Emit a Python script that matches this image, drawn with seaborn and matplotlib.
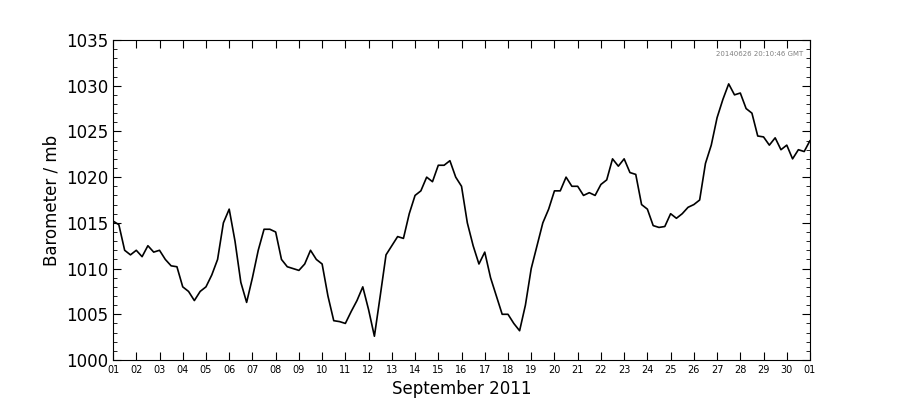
import pandas as pd
import numpy as np
import matplotlib
matplotlib.use("Agg")
import matplotlib.pyplot as plt
import matplotlib.dates as mdates
from matplotlib.ticker import MultipleLocator
import seaborn as sns

# barometer readings every 6 hours, 1 Sep 2011 00:00 to 1 Oct 2011 00:00
pressure = [
    1015.2, 1014.8, 1012.0, 1011.5,
    1012.0, 1011.3, 1012.5, 1011.8,
    1012.0, 1011.0, 1010.3, 1010.2,
    1008.0, 1007.5, 1006.5, 1007.5,
    1008.0, 1009.3, 1011.0, 1015.0,
    1016.5, 1013.0, 1008.5, 1006.3,
    1009.0, 1012.0, 1014.3, 1014.3,
    1014.0, 1011.0, 1010.2, 1010.0,
    1009.8, 1010.5, 1012.0, 1011.0,
    1010.5, 1007.0, 1004.3, 1004.2,
    1004.0, 1005.3, 1006.5, 1008.0,
    1005.5, 1002.6, 1007.0, 1011.5,
    1012.5, 1013.5, 1013.3, 1016.0,
    1018.0, 1018.5, 1020.0, 1019.5,
    1021.3, 1021.3, 1021.8, 1020.0,
    1019.0, 1015.0, 1012.5, 1010.5,
    1011.8, 1009.0, 1007.0, 1005.0,
    1005.0, 1004.0, 1003.2, 1006.0,
    1010.0, 1012.5, 1015.0, 1016.5,
    1018.5, 1018.5, 1020.0, 1019.0,
    1019.0, 1018.0, 1018.3, 1018.0,
    1019.2, 1019.7, 1022.0, 1021.2,
    1022.0, 1020.5, 1020.3, 1017.0,
    1016.5, 1014.7, 1014.5, 1014.6,
    1016.0, 1015.5, 1016.0, 1016.7,
    1017.0, 1017.5, 1021.5, 1023.5,
    1026.5, 1028.5, 1030.2, 1029.0,
    1029.2, 1027.5, 1027.0, 1024.5,
    1024.4, 1023.5, 1024.3, 1023.0,
    1023.5, 1022.0, 1023.0, 1022.8,
    1024.0,
]
times = pd.date_range("2011-09-01", "2011-10-01", freq="6h")
df = pd.DataFrame({"time": times, "mb": pressure})

sns.set_style("ticks")
plt.rcParams["font.family"] = ["DejaVu Sans"]
plt.rcParams["text.color"] = "black"
plt.rcParams["axes.labelcolor"] = "black"
plt.rcParams["xtick.color"] = "black"
plt.rcParams["ytick.color"] = "black"

fig = plt.figure(figsize=(9, 4), dpi=100)
ax = fig.add_axes([0.1256, 0.1, 0.7744, 0.8])
sns.lineplot(data=df, x="time", y="mb", color="black", linewidth=1.2, ax=ax)

ax.set_xlim(pd.Timestamp("2011-09-01"), pd.Timestamp("2011-10-01"))
ax.set_ylim(1000, 1035)
ax.xaxis.set_major_locator(mdates.DayLocator(bymonthday=range(1, 31)))
ax.xaxis.set_major_formatter(mdates.DateFormatter("%d"))
ax.yaxis.set_major_locator(MultipleLocator(5))
ax.yaxis.set_minor_locator(MultipleLocator(1))
ax.tick_params(which="both", direction="in", top=True, right=True, color="black")
ax.tick_params(which="major", length=6)
ax.tick_params(which="minor", length=3)
ax.tick_params(axis="x", labelsize=7)
ax.tick_params(axis="y", labelsize=12)
for s in ax.spines.values():
    s.set_visible(True)
    s.set_color("black")
ax.set_xlabel("September 2011", fontsize=12)
ax.set_ylabel("Barometer / mb", fontsize=12)
ax.text(0.99, 0.965, "20140626 20:10:46 GMT", transform=ax.transAxes,
        ha="right", va="top", fontsize=5, color="gray")

fig.savefig("out.png", dpi=100)
